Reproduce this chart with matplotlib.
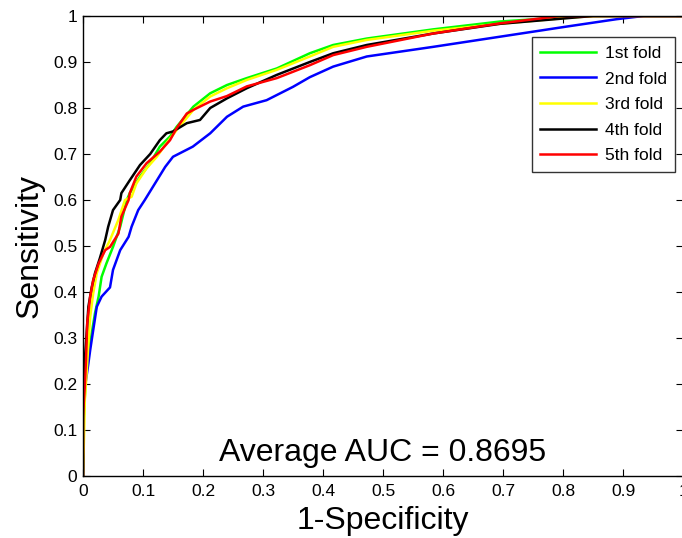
import matplotlib.pyplot as plt

plt.rcParams['font.family'] = ['Liberation Sans', 'DejaVu Sans']

# ROC points (1-specificity, sensitivity)
fold1_fpr = [0, 0.001, 0.001, 0.005, 0.009, 0.0145, 0.02, 0.026, 0.031, 0.039, 0.05, 0.062, 0.073, 0.078, 0.095,
             0.112, 0.128, 0.145, 0.156, 0.184, 0.212, 0.24, 0.273, 0.323, 0.378, 0.417, 0.473, 0.584, 0.695, 0.8, 0.85, 1]
fold1_tpr = [0, 0.04, 0.12, 0.223, 0.26, 0.31, 0.354, 0.39, 0.433, 0.462, 0.498, 0.542, 0.6, 0.615, 0.651,
             0.68, 0.716, 0.738, 0.759, 0.803, 0.832, 0.85, 0.865, 0.886, 0.919, 0.937, 0.951, 0.971, 0.988, 0.997, 1, 1]

fold2_fpr = [0, 0.001, 0.003, 0.009, 0.012, 0.017, 0.023, 0.031, 0.045, 0.05, 0.062, 0.076, 0.081, 0.092, 0.103,
             0.137, 0.15, 0.183, 0.212, 0.24, 0.267, 0.306, 0.35, 0.378, 0.417, 0.473, 0.584, 0.695, 0.806, 0.889, 0.934, 1]
fold2_tpr = [0, 0.135, 0.19, 0.245, 0.274, 0.317, 0.368, 0.39, 0.41, 0.448, 0.491, 0.52, 0.542, 0.578, 0.6,
             0.672, 0.694, 0.716, 0.745, 0.781, 0.803, 0.817, 0.846, 0.867, 0.89, 0.912, 0.933, 0.955, 0.977, 0.993, 1, 1]

fold3_fpr = [0, 0.002, 0.003, 0.006, 0.009, 0.012, 0.017, 0.023, 0.034, 0.045, 0.059, 0.07, 0.081, 0.089, 0.106,
             0.123, 0.139, 0.156, 0.184, 0.212, 0.24, 0.273, 0.323, 0.378, 0.417, 0.473, 0.584, 0.695, 0.806, 0.85, 1]
fold3_tpr = [0, 0.1, 0.165, 0.223, 0.288, 0.346, 0.397, 0.441, 0.484, 0.513, 0.557, 0.6, 0.607, 0.636, 0.669,
             0.694, 0.723, 0.752, 0.796, 0.825, 0.843, 0.861, 0.883, 0.912, 0.933, 0.948, 0.968, 0.983, 0.996, 1, 1]

fold4_fpr = [0, 0, 0.0005, 0.003, 0.006, 0.009, 0.0145, 0.02, 0.028, 0.037, 0.042, 0.05, 0.062, 0.064, 0.078,
             0.095, 0.112, 0.128, 0.139, 0.15, 0.173, 0.195, 0.212, 0.24, 0.273, 0.323, 0.378, 0.417, 0.473, 0.584, 0.695, 0.85, 1]
fold4_tpr = [0, 0.11, 0.194, 0.252, 0.31, 0.368, 0.41, 0.441, 0.473, 0.513, 0.542, 0.578, 0.6, 0.615, 0.643,
             0.676, 0.7, 0.73, 0.745, 0.749, 0.767, 0.774, 0.8, 0.821, 0.843, 0.872, 0.9, 0.919, 0.937, 0.962, 0.983, 1, 1]

fold5_fpr = [0, 0, 0.003, 0.005, 0.007, 0.012, 0.017, 0.026, 0.037, 0.045, 0.059, 0.064, 0.076, 0.078, 0.089,
             0.106, 0.128, 0.145, 0.156, 0.173, 0.184, 0.212, 0.24, 0.273, 0.323, 0.378, 0.417, 0.473, 0.584, 0.695, 0.795, 1]
fold5_tpr = [0, 0.13, 0.194, 0.252, 0.332, 0.39, 0.426, 0.462, 0.491, 0.498, 0.527, 0.564, 0.6, 0.615, 0.651,
             0.68, 0.705, 0.73, 0.756, 0.788, 0.796, 0.814, 0.826, 0.847, 0.865, 0.893, 0.915, 0.933, 0.962, 0.984, 1, 1]

fold_names = ['1st fold', '2nd fold', '3rd fold', '4th fold', '5th fold']
fold_colors = ['#00ff00', '#0000ff', '#ffff00', '#000000', '#ff0000']
avg_auc = 0.8695

fig = plt.figure(figsize=(6.82, 5.38), dpi=100)
ax = fig.add_axes([83/682, 1 - 476/538, 600/682, 460/538])

curves = [(fold1_fpr, fold1_tpr), (fold2_fpr, fold2_tpr), (fold3_fpr, fold3_tpr),
          (fold4_fpr, fold4_tpr), (fold5_fpr, fold5_tpr)]
for (fx, fy), name, col in zip(curves, fold_names, fold_colors):
    ax.plot(fx, fy, color=col, lw=1.8, label=name)

ax.set_xlim(0, 1)
ax.set_ylim(0, 1)
ticks = [i / 10 for i in range(11)]
tick_labels = ['0'] + ['%.1f' % t for t in ticks[1:-1]] + ['1']
ax.set_xticks(ticks)
ax.set_xticklabels(tick_labels)
ax.set_yticks(ticks)
ax.set_yticklabels(tick_labels)
ax.tick_params(direction='in', top=True, right=True, labelsize=12.5, length=5, width=0.8)
ax.tick_params(axis='x', pad=6)
ax.tick_params(axis='y', pad=4)
for s in ax.spines.values():
    s.set_linewidth(1.0)

ax.set_xlabel('1-Specificity', fontsize=23, labelpad=5)
ax.set_ylabel('Sensitivity', fontsize=23, labelpad=6)
ax.text(0.5, 0.05, 'Average AUC = %.4f' % avg_auc, fontsize=23, ha='center', va='center')

leg = ax.legend(loc='upper right', bbox_to_anchor=(0.987, 0.954), borderaxespad=0,
                fancybox=False, edgecolor='black', fontsize=12.5, handlelength=3.2,
                handletextpad=0.5, labelspacing=0.6, borderpad=0.5)
leg.get_frame().set_linewidth(1.0)

fig.savefig('out.png', dpi=100)
